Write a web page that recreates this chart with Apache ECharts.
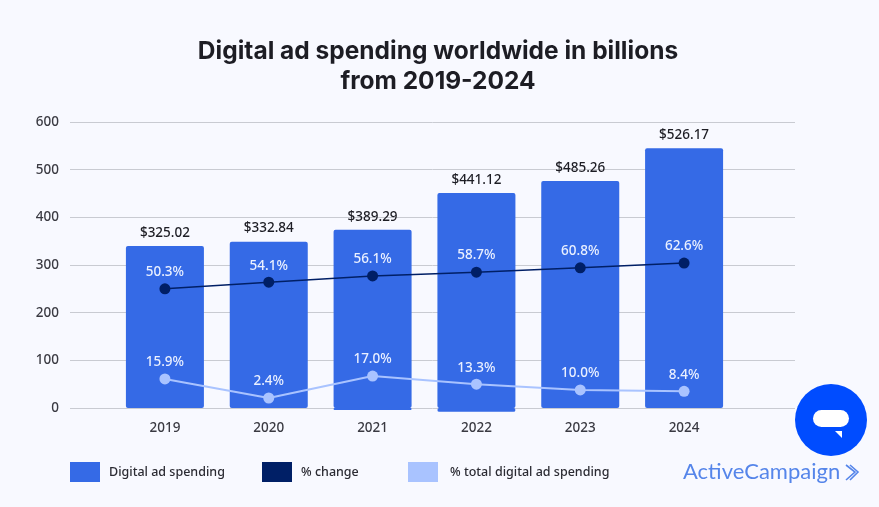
<!DOCTYPE html>
<html>
<head>
<meta charset="utf-8">
<style>html,body{margin:0;padding:0;background:#f8f9ff}#c{width:879px;height:507px}</style>
<script src="https://cdn.jsdelivr.net/npm/echarts@6/dist/echarts.min.js"></script>
</head>
<body>
<div id="c"></div>
<script>
const categories = ['2019','2020','2021','2022','2023','2024'];
const spendingHeights = [340,349,374,451,476,545];
const spendingOverhang = [0,0,-4,-8,0,0];
const spendingLabels = ['$325.02','$332.84','$389.29','$441.12','$485.26','$526.17'];
const changeValues = [250,264,277,285,294,304];
const changeLabels = ['50.3%','54.1%','56.1%','58.7%','60.8%','62.6%'];
const shareValues = [61,21,67,50,38,35];
const shareLabels = ['15.9%','2.4%','17.0%','13.3%','10.0%','8.4%'];
const yTicks = {min:0,max:600,interval:100};

const BLUE='#356ae6', NAVY='#001f66', LIGHT='#a9c3ff';
const FONT='"Noto Sans", sans-serif';
const chart = echarts.init(document.getElementById('c'),null,{renderer:'canvas'});
function legendAt(left,name,gap){
  return {left:left,top:462,data:[name],itemWidth:30,itemHeight:20,itemGap:0,padding:0,
    icon:'rect',textStyle:{fontFamily:FONT,fontSize:12.5,fontWeight:500,color:'#2b2b33',padding:[0,0,0,gap]}};
}
chart.setOption({
  backgroundColor:'#f8f9ff',
  animation:false,
  title:{text:'Digital ad spending worldwide in billions\nfrom 2019-2024',left:433,top:32,textAlign:'center',
    textStyle:{fontFamily:'Inter, sans-serif',fontSize:24.5,fontWeight:700,color:'#1d1d24',lineHeight:30}},
  legend:[legendAt(70,'Digital ad spending',4),legendAt(262,'% change',4),legendAt(408,'% total digital ad spending',7)],
  grid:[
    {left:113,width:623,top:122,height:286},
    {left:70,width:725,top:122,height:286}
  ],
  xAxis:[
    {type:'category',gridIndex:0,data:categories,axisLine:{show:false},axisTick:{show:false},
      axisLabel:{margin:13,fontFamily:FONT,fontSize:13.5,fontWeight:500,color:'#3a3a42'}},
    {type:'value',gridIndex:1,show:false,min:0,max:1}
  ],
  yAxis:[
    {type:'value',gridIndex:0,show:false,...yTicks},
    {type:'value',gridIndex:1,...yTicks,axisLine:{show:false},axisTick:{show:false},
      splitLine:{lineStyle:{color:'#c9cbd2',width:1}},
      axisLabel:{margin:11,padding:[2,0,0,0],fontFamily:FONT,fontSize:13.5,fontWeight:500,color:'#3a3a42'}}
  ],
  series:[
    {name:'Digital ad spending',type:'bar',stack:'s',barWidth:78,data:spendingHeights,clip:false,
      itemStyle:{color:BLUE,borderRadius:2},z:2,
      label:{show:true,position:'top',distance:6,fontFamily:FONT,fontSize:13.5,fontWeight:500,color:'#1d1d24',
        formatter:p=>spendingLabels[p.dataIndex]}},
    {name:'overhang',type:'bar',stack:'s',barWidth:78,data:spendingOverhang,clip:false,
      itemStyle:{color:BLUE,borderRadius:2},z:2},
    {name:'% change',type:'line',data:changeValues,symbol:'circle',symbolSize:11,z:4,
      itemStyle:{color:NAVY},lineStyle:{color:NAVY,width:1.5},
      label:{show:true,position:'top',distance:4,fontFamily:FONT,fontSize:13.5,fontWeight:500,color:'#eaf0ff',
        formatter:p=>changeLabels[p.dataIndex]}},
    {name:'% total digital ad spending',type:'line',data:shareValues,symbol:'circle',symbolSize:11,z:4,
      itemStyle:{color:LIGHT},lineStyle:{color:LIGHT,width:2},
      label:{show:true,position:'top',distance:4,fontFamily:FONT,fontSize:13.5,fontWeight:500,color:'#eaf0ff',
        formatter:p=>shareLabels[p.dataIndex]}}
  ],
  graphic:[
    {type:'circle',shape:{cx:831,cy:420,r:36},style:{fill:'#004cff'},z:10},
    {type:'rect',shape:{x:813,y:410,width:36,height:17,r:8.5},style:{fill:'#fff'},z:11},
    {type:'polygon',shape:{points:[[835,431],[842,431],[842,438]]},style:{fill:'#fff'},z:11},
    {type:'text',x:683,y:461,style:{text:'ActiveCampaign',fontFamily:'Lato, sans-serif',fontSize:22,fontWeight:400,fill:'#5585ea'},z:11},
    {type:'polyline',shape:{points:[[846,465],[855,472],[846,480]]},style:{stroke:'#5585ea',lineWidth:1.6,fill:'none'},z:11},
    {type:'polyline',shape:{points:[[850,465],[858,472],[850,480]]},style:{stroke:'#5585ea',lineWidth:1.6,fill:'none'},z:11}
  ]
});
</script>
</body>
</html>
